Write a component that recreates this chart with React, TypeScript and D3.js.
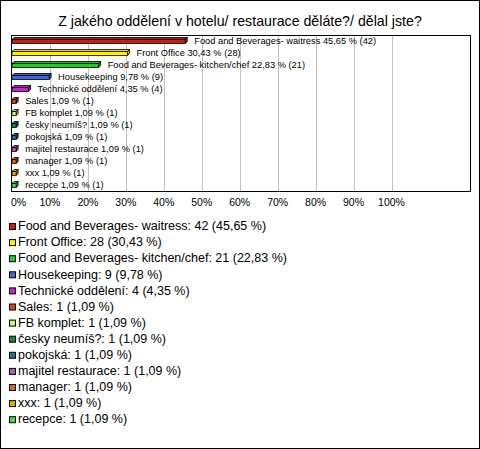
import React from "react";
import * as d3 from "d3";

const title = "Z jakého oddělení v hotelu/ restaurace děláte?/ dělal jste?";
const categories = [
  "Food and Beverages- waitress",
  "Front Office",
  "Food and Beverages- kitchen/chef",
  "Housekeeping",
  "Technické oddělení",
  "Sales",
  "FB komplet",
  "česky neumíš?",
  "pokojská",
  "majitel restaurace",
  "manager",
  "xxx",
  "recepce",
];
const counts = [42, 28, 21, 9, 4, 1, 1, 1, 1, 1, 1, 1, 1];
const percents = [45.65, 30.43, 22.83, 9.78, 4.35, 1.09, 1.09, 1.09, 1.09, 1.09, 1.09, 1.09, 1.09];
const colors = [
  "#c4200c", "#ffee00", "#22cc22", "#4466dd", "#cc22cc", "#dd4411", "#bbff66",
  "#118844", "#227799", "#bb55bb", "#dd6611", "#ddaa00", "#44dd44",
];
const ticks = [0, 10, 20, 30, 40, 50, 60, 70, 80, 90, 100];

const W = 480, H = 449;
const plot = { left: 11, right: 470, top: 35, bottom: 191 };
const fmt = (v: number) => v.toFixed(2).replace(".", ",");
const font = "'Liberation Sans', Arial, sans-serif";

export default function App() {
  if (typeof document !== "undefined") document.body.style.margin = "0";
  const x = d3.scaleLinear().domain([0, 100]).range([12, 391.5]);
  const y = d3.scaleBand<number>().domain(d3.range(categories.length)).range([plot.top, plot.bottom]);
  const dp = 2;
  return (
    <svg width={W} height={H} style={{ display: "block", fontFamily: font }}>
      <rect x={0.5} y={0.5} width={W - 1} height={H - 1} fill="#fff" stroke="#000" />
      <text x={240} y={26} textAnchor="middle" fontSize={14.2}>{title}</text>
      <rect x={plot.left + 0.5} y={plot.top + 0.5} width={plot.right - plot.left} height={plot.bottom - plot.top} fill="#fff" stroke="none" />
      {ticks.slice(1).map((t) => (
        <line key={t} x1={Math.round(x(t)) + 0.5} x2={Math.round(x(t)) + 0.5} y1={plot.top} y2={plot.bottom} stroke="#c0c0c0" />
      ))}
      {categories.map((c, i) => {
        const cy = (y(i) as number) + y.bandwidth() / 2;
        const x0 = x(0);
        const x1 = x(percents[i]);
        const t = cy - 1.5, b = cy + 2.5;
        const col = d3.color(colors[i])!;
        return (
          <g key={c}>
            <polygon points={`${x0},${t} ${x0 + dp},${t - dp} ${x1 + dp},${t - dp} ${x1},${t}`} fill={col.darker(0.3).toString()} stroke="#000" strokeWidth={0.8} />
            <polygon points={`${x1},${t} ${x1 + dp},${t - dp} ${x1 + dp},${b - dp} ${x1},${b}`} fill={col.darker(0.8).toString()} stroke="#000" strokeWidth={0.8} />
            <rect x={x0} y={t} width={x1 - x0} height={b - t} fill={colors[i]} stroke="#000" strokeWidth={0.8} />
            <text x={x1 + 9} y={cy + 0.5} dominantBaseline="middle" fontSize={9.3}>
              {`${c} ${fmt(percents[i])} % (${counts[i]})`}
            </text>
          </g>
        );
      })}
      <rect x={plot.left + 0.5} y={plot.top + 0.5} width={plot.right - plot.left} height={plot.bottom - plot.top} fill="none" stroke="#000" />
      {ticks.map((t) => (
        <text key={t} x={t === 0 ? 11 : x(t)} y={203} textAnchor={t === 0 ? "start" : "middle"} dominantBaseline="middle" fontSize={10.5}>
          {`${t}%`}
        </text>
      ))}
      {categories.map((c, i) => {
        const cy = 227 + i * 16.1;
        return (
          <g key={"l" + c}>
            <rect x={9.5} y={cy - 3.5} width={6} height={6} fill={colors[i]} stroke="#000" />
            <text x={18} y={cy} dominantBaseline="middle" fontSize={12.5}>
              {`${c}: ${counts[i]} (${fmt(percents[i])} %)`}
            </text>
          </g>
        );
      })}
    </svg>
  );
}
